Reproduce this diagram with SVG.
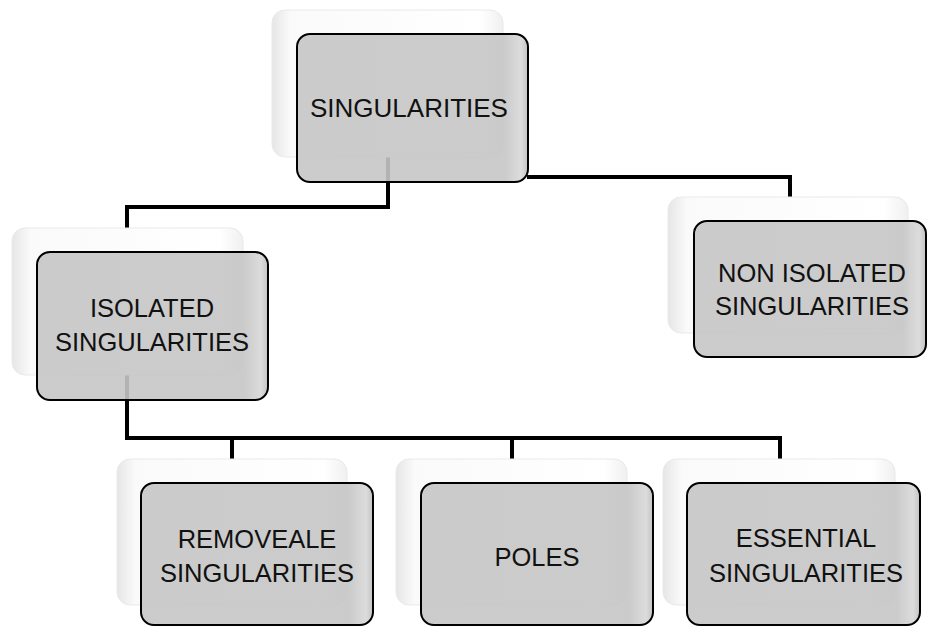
<svg xmlns="http://www.w3.org/2000/svg" width="927" height="626" viewBox="0 0 927 626">
<style>
.back{fill:url(#gBack);stroke:#e9e9e9;stroke-width:1}
.front{fill:url(#gFront);fill-opacity:0.9;stroke:#000;stroke-width:2}
.lbl{font-family:"Liberation Sans",Arial,sans-serif;font-size:25.5px;fill:#111;text-anchor:middle}
.conn{fill:none;stroke:#000;stroke-width:4;stroke-linejoin:miter;stroke-linecap:butt}
</style>
<defs>
<linearGradient id="gBack" x1="0" y1="0" x2="1" y2="0">
<stop offset="0" stop-color="#e6e6e6"/>
<stop offset="0.08" stop-color="#fafafa"/>
<stop offset="0.9" stop-color="#ffffff"/>
<stop offset="1" stop-color="#f0f0f0"/>
</linearGradient>
<linearGradient id="gFront" x1="0" y1="0" x2="1" y2="0">
<stop offset="0" stop-color="#c6c6c6"/>
<stop offset="0.9" stop-color="#c6c6c6"/>
<stop offset="0.97" stop-color="#d8d8d8"/>
<stop offset="1" stop-color="#bcbcbc"/>
</linearGradient>
</defs>
<g id="connectors">
<path class="conn" d="M388 150 V207 H127 V230"/>
<path class="conn" d="M527 177 H790 V199"/>
<path class="conn" d="M127 370 V438 H780 V461"/>
<path class="conn" d="M232 438 V461"/>
<path class="conn" d="M512 438 V461"/>
</g>
<g id="n-singularities">
<rect class="back" x="272" y="10" width="231" height="147" rx="13"/>
<rect class="front" x="297" y="34" width="231" height="148" rx="13"/>
<text class="lbl" x="409" y="117" style="font-size:26px">SINGULARITIES</text>
</g>
<g id="n-isolated">
<rect class="back" x="12" y="228" width="231" height="147" rx="13"/>
<rect class="front" x="37" y="252" width="231" height="148" rx="13"/>
<text class="lbl" x="152" y="317">ISOLATED</text>
<text class="lbl" x="152" y="351">SINGULARITIES</text>
</g>
<g id="n-nonisolated">
<rect class="back" x="668" y="197" width="240" height="136" rx="13"/>
<rect class="front" x="694" y="221" width="232" height="136" rx="13"/>
<text class="lbl" x="812" y="282">NON ISOLATED</text>
<text class="lbl" x="812" y="315">SINGULARITIES</text>
</g>
<g id="n-removeale">
<rect class="back" x="117" y="459" width="230" height="146" rx="13"/>
<rect class="front" x="141" y="483" width="232" height="142" rx="13"/>
<text class="lbl" x="257" y="548">REMOVEALE</text>
<text class="lbl" x="257" y="582">SINGULARITIES</text>
</g>
<g id="n-poles">
<rect class="back" x="396" y="459" width="231" height="146" rx="13"/>
<rect class="front" x="421" y="483" width="232" height="142" rx="13"/>
<text class="lbl" x="537" y="566">POLES</text>
</g>
<g id="n-essential">
<rect class="back" x="663" y="459" width="232" height="146" rx="13"/>
<rect class="front" x="687" y="483" width="233" height="142" rx="13"/>
<text class="lbl" x="806" y="547">ESSENTIAL</text>
<text class="lbl" x="806" y="582">SINGULARITIES</text>
</g>
</svg>
